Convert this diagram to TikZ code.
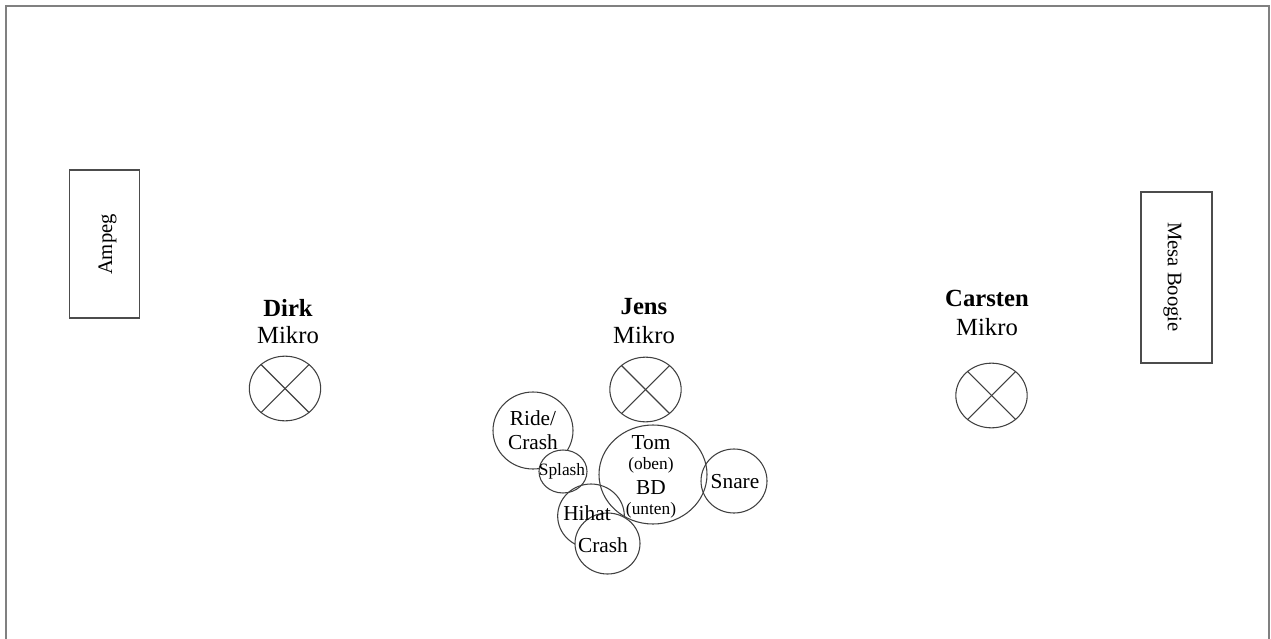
\documentclass[tikz,border=0pt]{standalone}
\usepackage{fontspec}
\setmainfont{Liberation Serif}
\usetikzlibrary{shapes.geometric}

\begin{document}
\begin{tikzpicture}[x=0.75pt,y=-0.75pt,
        mic/.style={ellipse, draw=black!75, line width=0.8pt, inner sep=0pt,
            minimum width=53.5pt, minimum height=48.5pt},
        cross/.style={draw=black!75, line width=0.8pt},
        drum/.style={ellipse, draw=black!75, line width=0.8pt, inner sep=0pt},
        amp/.style={rectangle, draw=black!70, line width=0.8pt, inner sep=0pt},
        amptext/.style={font=\fontsize{15.5}{17}\selectfont},
        person/.style={font=\fontsize{18.5}{20}\selectfont\bfseries},
        mikro/.style={font=\fontsize{18.5}{20}\selectfont},
        big/.style={font=\fontsize{16}{18}\selectfont, align=center},
        small/.style={font=\fontsize{13}{15}\selectfont}]
        \useasboundingbox (0,0) rectangle (1271,639);
        \draw[black!50, line width=1pt] (6,639) -- (6,6) -- (1269,6) -- (1269,639);

        % Verstaerker
        \node[amp, minimum width=52.5pt, minimum height=111pt] (ampeg) at (104.5,244) {};
        \node[amptext, rotate=90] (ampegt) at (107.5,244.5) {Ampeg};
        \node[amp, minimum width=53.25pt, minimum height=128.25pt] (mesa) at (1176.5,277.5) {};
        \node[amptext, rotate=-90] (mesat) at (1172.5,277) {Mesa Boogie};

        % Mikros
        \node[person] (dirk) at (288,308) {Dirk};
        \node[mikro] (dirkm) at (288,335) {Mikro};
        \node[mic] (dmic) at (285,388.5) {};
        \draw[cross] (dmic.45) -- (dmic.225);
        \draw[cross] (dmic.135) -- (dmic.315);

        \node[person] (jens) at (644,307) {Jens};
        \node[mikro] (jensm) at (644,335) {Mikro};
        \node[mic] (jmic) at (645.5,389.5) {};
        \draw[cross] (jmic.45) -- (jmic.225);
        \draw[cross] (jmic.135) -- (jmic.315);

        \node[person] (carsten) at (987,298) {Carsten};
        \node[mikro] (carstenm) at (987,327) {Mikro};
        \node[mic] (cmic) at (991.5,395.5) {};
        \draw[cross] (cmic.45) -- (cmic.225);
        \draw[cross] (cmic.135) -- (cmic.315);

        % Schlagzeug
        \node[drum, minimum width=60pt, minimum height=57.75pt] (ride) at (533,430.5) {};
        \node[drum, fill=white, minimum width=36pt, minimum height=32.25pt] (splash) at (563,471.5) {};
        \node[drum, minimum width=50pt, minimum height=48pt] (hihat) at (591,516) {};
        \node[drum, minimum width=81pt, minimum height=74.25pt] (tom) at (653,474.5) {};
        \node[drum, minimum width=49.5pt, minimum height=48pt] (snare) at (734,481) {};
        \node[drum, fill=white, minimum width=48.75pt, minimum height=45.75pt] (crash) at (607.5,543.5) {};

        \node[big] (ridet) at (533,430) {Ride/\\Crash};
        \node[small] (splasht) at (562,471) {Splash};
        \node[big] (tomt) at (651,443) {Tom};
        \node[small] (obent) at (651,465) {(oben)};
        \node[big] (bdt) at (651,488) {BD};
        \node[small] (untent) at (651,510) {(unten)};
        \node[big] (snaret) at (735,482) {Snare};
        \node[big] (hihatt) at (587,513) {Hihat};
        \node[big] (crasht) at (603,545) {Crash};
    \end{tikzpicture}
\end{document}
